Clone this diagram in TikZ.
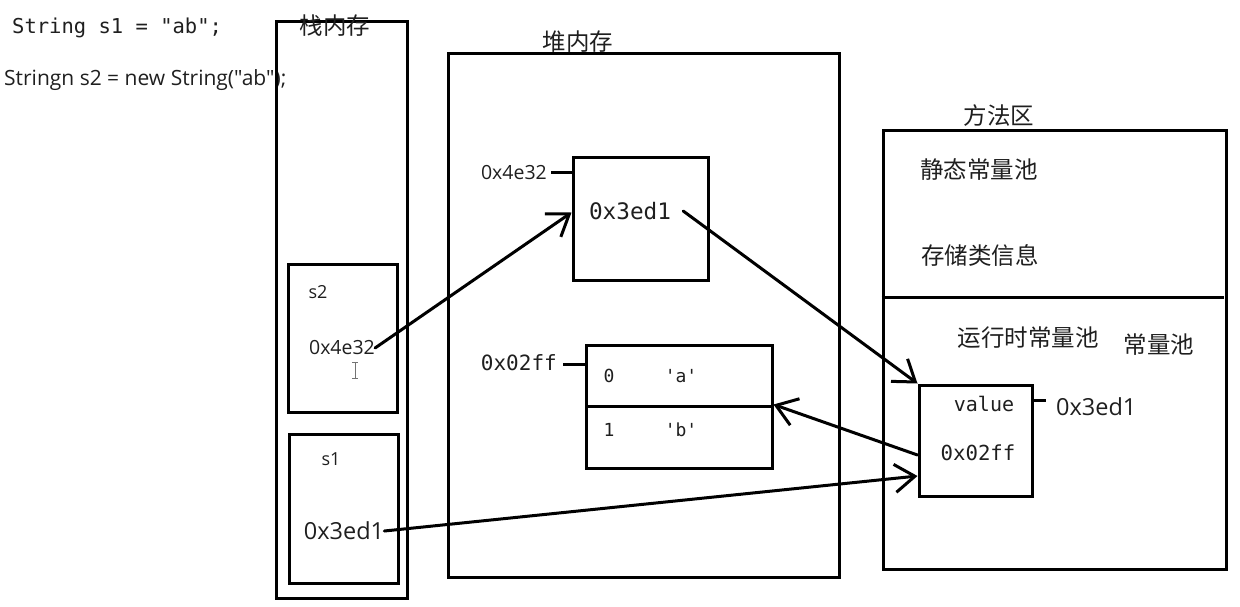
\documentclass[tikz,border=0pt]{standalone}
\usepackage{fontspec}
\setmainfont{Open Sans}[Ligatures=TeXOff]
\newfontfamily\cjk{Noto Sans CJK SC}
\newfontfamily\mono{DejaVu Sans Mono}
\usetikzlibrary{arrows.meta}
\newcommand\fsz[1]{\fontsize{#1}{#1}\selectfont}
\begin{document}
\begin{tikzpicture}[x=1pt,y=-1pt,
  box/.style={draw, line width=3pt, inner sep=0pt},
  txt/.style={inner sep=0pt, text=black!88},
  cn/.style={txt, font=\cjk\fsz{23.5}},
  mn/.style={txt, font=\mono\fsz{#1}},
  sn/.style={txt, font=\fsz{#1}},
  ptr/.style={line width=3pt, line cap=round,
    -{Straight Barb[length=20pt,width=28pt,line width=3pt]}},
  tick/.style={line width=3pt}]
\useasboundingbox (0,0) rectangle (1240,606);

% source lines
\node[mn=20.5, anchor=base west] (code1) at (12,33) {String s1 = "ab";};
\node[sn=21, anchor=base west] (code2) at (4,85) {Stringn s2 = new String("ab");};

% stack
\node[box, minimum width=131pt, minimum height=577pt] (stack) at (341.5,309.5) {};
\node[cn] (stacklbl) at (335,26) {栈内存};
\node[box, minimum width=109pt, minimum height=148pt] (s2box) at (342.5,338) {};
\node[box, minimum width=109pt, minimum height=149pt] (s1box) at (343.5,508.5) {};
\node[sn=18] (s2name) at (318,292) {s2};
\node[sn=19.5] (s2addr) at (342,348) {0x4e32};
\node[sn=18] (s1name) at (331,459) {s1};
\node[sn=23.5] (s1addr) at (344,531) {0x3ed1};
% text cursor
\draw[black!55, line width=1pt] (352,362) -- (358,362) (355,362) -- (355,378) (352,378) -- (358,378);

% heap
\node[box, minimum width=391pt, minimum height=524pt] (heap) at (643.5,315) {};
\node[cn] (heaplbl) at (578,42) {堆内存};
\node[box, minimum width=135pt, minimum height=123pt] (obj) at (640.5,218.5) {};
\node[mn=22.7] (objaddr) at (630,211) {0x3ed1};
\node[sn=19.5, anchor=east] (objlbl) at (547,173) {0x4e32};
\draw[tick] (551,172) -- (obj.west |- 0,172);
\node[box, minimum width=186pt, minimum height=61pt] (arr0) at (679,375.5) {};
\node[box, minimum width=186pt, minimum height=62pt] (arr1) at (679,437) {};
\node[mn=18] (i0) at (609,376) {0};
\node[mn=18] (c0) at (681,376) {'a'};
\node[mn=18] (i1) at (609,430) {1};
\node[mn=18] (c1) at (681,430) {'b'};
\node[mn=21, anchor=east] (arrlbl) at (557,363) {0x02ff};
\draw[tick] (563,364) -- (arr0.west |- 0,364);

% method area
\node[box, minimum width=343pt, minimum height=439pt] (method) at (1054.5,349.5) {};
\node[cn] (methodlbl) at (999,116) {方法区};
\draw[line width=3pt] (method.west |- 0,297) -- (1224,297);
\node[cn] (staticpool) at (979,170) {静态常量池};
\node[cn] (classinfo) at (980,255) {存储类信息};
\node[cn] (rtpool) at (1028,338) {运行时常量池};
\node[cn] (pool) at (1159,345) {常量池};
\node[box, minimum width=113pt, minimum height=111pt] (val) at (975.5,440.5) {};
\node[mn=20] (valname) at (984,404) {value};
\node[mn=20.7] (valaddr) at (978,453) {0x02ff};
\draw[tick] (val.east |- 0,400) -- (1046,400);
\node[sn=23.5, anchor=west] (vallbl) at (1056,407) {0x3ed1};

% references
\draw[ptr] (s2addr.east) -- ([yshift=6pt]obj.west);
\draw[ptr] ([xshift=12pt]objaddr.east) -- (val.north west);
\draw[ptr] ([yshift=-14.5pt]val.west) -- (arr1.north east);
\draw[ptr] (s1addr.east) -- ([yshift=-35.5pt]val.west);
\end{tikzpicture}
\end{document}
